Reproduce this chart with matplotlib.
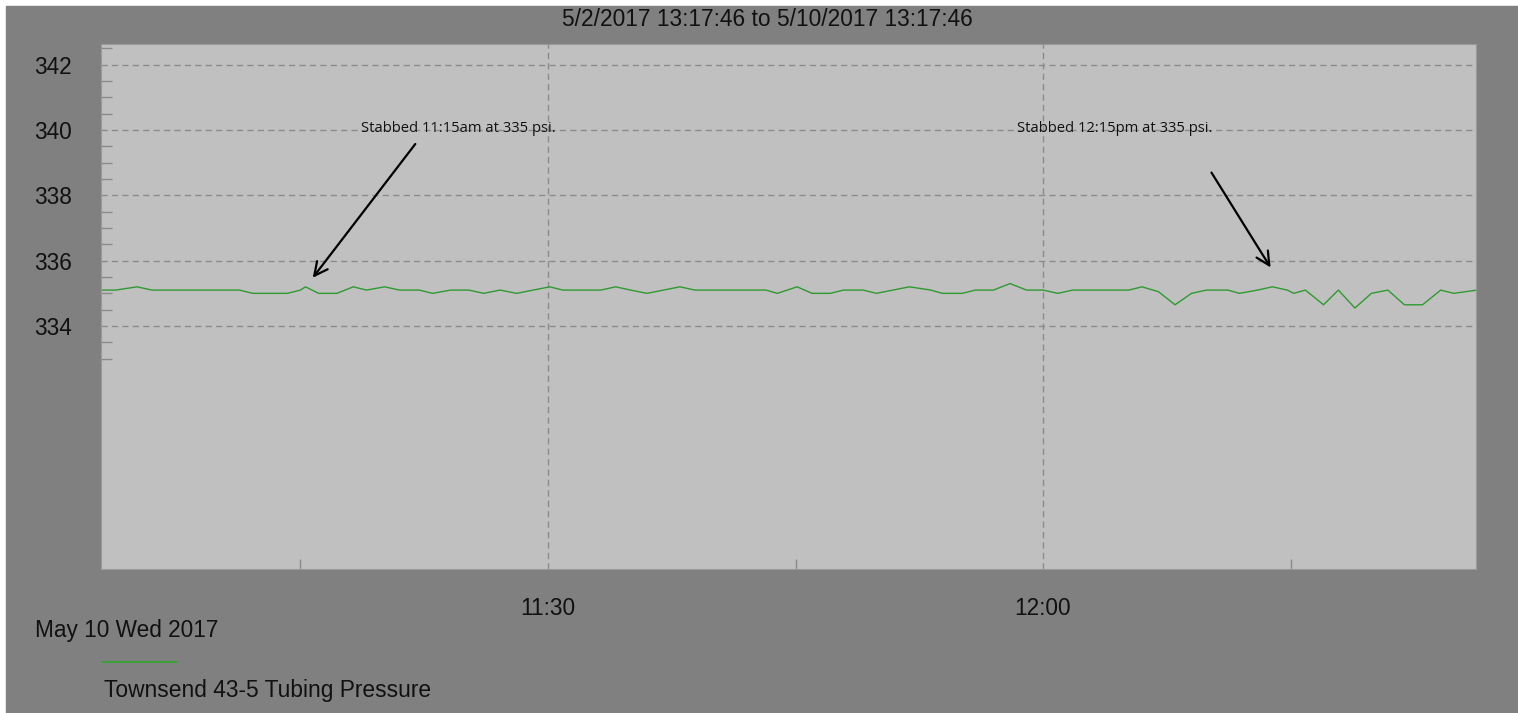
import numpy as np
from datetime import datetime, timedelta
import matplotlib
matplotlib.use('Agg')
import matplotlib.pyplot as plt
import matplotlib.dates as mdates
from matplotlib.patches import Rectangle
from matplotlib.lines import Line2D

# minutes after 11:00 on May 10 2017
minutes = [2.85, 3.8, 5.1, 6.0, 11.3, 12.1, 14.2, 15.0, 15.3, 16.1, 17.2, 18.2, 19.0, 20.1,
           21.0, 22.2, 23.0, 24.1, 25.2, 26.1, 27.1, 28.1, 29.1, 30.1, 30.9, 33.2, 34.1, 35.0,
           36.0, 37.0, 38.0, 38.9, 43.2, 43.9, 45.1, 46.0, 47.1, 47.9, 49.1, 49.9, 50.9, 51.9,
           53.2, 53.9, 55.1, 55.9, 57.0, 58.0, 59.0, 60.0, 60.9, 61.8, 65.2, 66.0, 67.0, 68.0,
           69.0, 69.9, 71.2, 71.9, 73.0, 73.9, 74.8, 75.2, 75.9, 77.0, 77.9, 78.9, 79.9, 80.9,
           81.9, 83.0, 84.1, 84.9, 86.3]
psi = [335.1, 335.1, 335.2, 335.1, 335.1, 335.0, 335.0, 335.1, 335.2, 335.0, 335.0, 335.2, 335.1, 335.2,
       335.1, 335.1, 335.0, 335.1, 335.1, 335.0, 335.1, 335.0, 335.1, 335.2, 335.1, 335.1, 335.2, 335.1,
       335.0, 335.1, 335.2, 335.1, 335.1, 335.0, 335.2, 335.0, 335.0, 335.1, 335.1, 335.0, 335.1, 335.2,
       335.1, 335.0, 335.0, 335.1, 335.1, 335.3, 335.1, 335.1, 335.0, 335.1, 335.1, 335.2, 335.05, 334.65,
       335.0, 335.1, 335.1, 335.0, 335.1, 335.2, 335.1, 335.0, 335.1, 334.65, 335.1, 334.55, 335.0, 335.1,
       334.65, 334.65, 335.1, 335.0, 335.1]

series_name = 'Townsend 43-5 Tubing Pressure'
title = '5/2/2017 13:17:46 to 5/10/2017 13:17:46'
day_label = 'May 10 Wed 2017'
notes = ['Stabbed 11:15am at 335 psi.', 'Stabbed 12:15pm at 335 psi.']

base = datetime(2017, 5, 10, 11, 0)
times = [base + timedelta(minutes=m) for m in minutes]

W, H = 1518, 713
plt.rcParams['font.family'] = ['Liberation Sans', 'DejaVu Sans']

fig = plt.figure(figsize=(W / 100, H / 100), dpi=100, facecolor='white')
fig.patches.append(Rectangle((6 / W, 0), 1, (H - 6) / H, transform=fig.transFigure,
                             color='#808080', zorder=-10))

ax = fig.add_axes([101 / W, (H - 569) / H, (1475.5 - 101) / W, (569 - 43.5) / H])
ax.set_facecolor('#c0c0c0')
ax.plot(times, psi, color='#2f9a30', lw=1)

ax.set_xlim(base + timedelta(minutes=2.91), base + timedelta(minutes=86.21))
ax.set_ylim(326.56, 342.65)

# y axis
ax.set_yticks([334, 336, 338, 340, 342])
ax.set_yticks(np.arange(333, 343, 0.5), minor=True)
ax.tick_params(axis='y', which='major', length=0, pad=21, labelsize=16.3, labelcolor='#111111')
ax.tick_params(axis='y', which='minor', direction='in', length=8, width=1, color='#8a8a8a')

# x axis
ax.xaxis.set_major_locator(mdates.MinuteLocator(byminute=[0, 30]))
ax.xaxis.set_minor_locator(mdates.MinuteLocator(byminute=[15, 45]))
ax.xaxis.set_major_formatter(mdates.DateFormatter('%H:%M'))
ax.tick_params(axis='x', which='major', length=0, pad=20, labelsize=16.3, labelcolor='#111111')
ax.tick_params(axis='x', which='minor', direction='in', length=7, width=1, color='#8a8a8a')

ax.grid(True, which='major', color='#8c8c8c', lw=1, linestyle=(0, (4.5, 3)))
for s in ax.spines.values():
    s.set_color('#9a9a9a')
    s.set_linewidth(0.8)

# annotations
def t(m):
    return mdates.date2num(base + timedelta(minutes=m))

ax.text(t(24.55), 340.06, notes[0], ha='center', va='center', fontsize=10.6,
        family=['Open Sans', 'DejaVu Sans'], color='#111111')
ax.annotate('', xy=(t(15.64), 335.41), xytext=(t(22.06), 339.64),
            arrowprops=dict(arrowstyle='->', color='black', lw=1.6, mutation_scale=24))
ax.text(t(64.33), 340.06, notes[1], ha='center', va='center', fontsize=10.6,
        family=['Open Sans', 'DejaVu Sans'], color='#111111')
ax.annotate('', xy=(t(73.88), 335.72), xytext=(t(70.12), 338.77),
            arrowprops=dict(arrowstyle='->', color='black', lw=1.6, mutation_scale=24))

# title, date and legend
fig.text(767 / W, 1 - 19 / H, title, ha='center', va='center', fontsize=16.4, color='#111111')
fig.text(35 / W, 1 - 631 / H, day_label, ha='left', va='center', fontsize=16.3, color='#111111')
fig.add_artist(Line2D([102 / W, 177 / W], [1 - 662 / H, 1 - 662 / H], transform=fig.transFigure,
                      color='#2ea82e', lw=1.2))
fig.text(104 / W, 1 - 691 / H, series_name, ha='left', va='center', fontsize=16.4, color='#111111')

fig.savefig('out.png', dpi=100, facecolor=fig.get_facecolor())
